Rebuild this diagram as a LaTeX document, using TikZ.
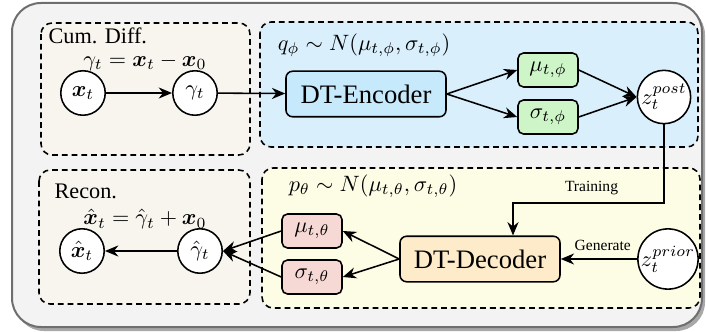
\documentclass[tikz,border=0pt]{standalone}
\usepackage{amsmath,bm}
\usepackage[no-math]{fontspec}
\setmainfont{Liberation Serif}
\usepackage{xcolor}
\usepackage{tikz}
\usetikzlibrary{arrows.meta,positioning,shapes.geometric}

\definecolor{framefill}{HTML}{F3F3F3}
\definecolor{frameline}{HTML}{6E6E6E}
\definecolor{beige}{HTML}{F7F5EE}
\definecolor{skyarea}{HTML}{D9EFFC}
\definecolor{creamarea}{HTML}{FDFDE6}
\definecolor{encfill}{HTML}{C6EAFB}
\definecolor{decfill}{HTML}{FDEBC9}
\definecolor{greenfill}{HTML}{CDF5C7}
\definecolor{pinkfill}{HTML}{F6D8D4}

\begin{document}
\begin{tikzpicture}[
  x=0.45pt, y=-0.45pt,
  every node/.style={font=\normalsize},
  area/.style={draw, line width=0.7pt, dash pattern=on 2.6pt off 1.8pt, rounded corners=5pt},
  var/.style={draw, circle, line width=0.7pt, fill=white, minimum size=20pt, inner sep=0pt},
  latent/.style={draw, circle, line width=0.7pt, fill=white, minimum size=24pt, inner sep=0pt},
  net/.style={draw, rounded corners=3pt, line width=0.7pt, minimum width=72pt, minimum height=20.5pt, font=\large},
  param/.style={draw, rounded corners=2.5pt, line width=0.7pt, minimum width=27pt, minimum height=15.3pt},
  edge/.style={-{Stealth[length=6pt,width=5pt]}, line width=0.7pt}
]
\useasboundingbox (0,0) rectangle (706,332);
\fill[frameline!60, rounded corners=13pt] (15,6) rectangle (705,331);
\draw[frameline, line width=0.9pt, fill=framefill, rounded corners=13pt] (12,3) rectangle (702,327);

\draw[area, fill=beige] (41,23) rectangle (250,155);
\draw[area, fill=skyarea] (260,22) rectangle (698,147);
\draw[area, fill=beige] (39,170) rectangle (250,304);
\draw[area, fill=creamarea] (262,168) rectangle (700,308);

\node[anchor=west, inner sep=1pt] (cum) at (46,36) {Cum. Diff.};
\node[inner sep=1pt] (diffeq) at (145,62) {$\gamma_t = \bm{x}_t - \bm{x}_0$};
\node[var] (xt) at (83,93) {$\bm{x}_t$};
\node[var] (gt) at (195,93) {$\gamma_t$};

\node (qphi) at (364,45) {$q_\phi \sim N(\mu_{t,\phi},\sigma_{t,\phi})$};
\node[net, fill=encfill] (enc) at (366,94) {DT-Encoder};
\node[param, fill=greenfill] (muphi) at (548,70) {$\mu_{t,\phi}$};
\node[param, fill=greenfill] (sigphi) at (548,117) {$\sigma_{t,\phi}$};
\node[latent] (zpost) at (664,97) {$z_t^{post}$};

\node[anchor=west, inner sep=1pt] (recon) at (52,191) {Recon.};
\node[inner sep=1pt] (reconeq) at (145,219) {$\hat{\bm{x}}_t = \hat{\gamma}_t + \bm{x}_0$};
\node[var] (xhat) at (82,251) {$\hat{\bm{x}}_t$};
\node[var] (ghat) at (200,251) {$\hat{\gamma}_t$};

\node (ptheta) at (373,186) {$p_\theta \sim N(\mu_{t,\theta},\sigma_{t,\theta})$};
\node[net, fill=decfill] (dec) at (480,259) {DT-Decoder};
\node[param, fill=pinkfill] (mutheta) at (312,231) {$\mu_{t,\theta}$};
\node[param, fill=pinkfill] (sigtheta) at (312,277) {$\sigma_{t,\theta}$};
\node[latent] (zprior) at (668,259) {$z_t^{prior}$};

\coordinate (trbend) at (513,203);

\draw[edge] (xt) -- (gt);
\draw[edge] (gt) -- (enc);
\draw[edge] (enc.east) -- (muphi.west);
\draw[edge] (enc.east) -- (sigphi.west);
\draw[edge] (muphi.east) -- (zpost.west);
\draw[edge] (sigphi.east) -- (zpost.west);
\draw[edge] (zpost.south) |- node[above, pos=0.74, font=\scriptsize]{Training} (trbend) -- (trbend |- dec.north);
\draw[edge] (zprior) -- node[above, pos=0.45, font=\scriptsize]{Generate} (dec);
\draw[edge] (dec.west) -- (mutheta.east);
\draw[edge] (dec.west) -- (sigtheta.east);
\draw[edge] (mutheta.west) -- (ghat.east);
\draw[edge] (sigtheta.west) -- (ghat.east);
\draw[edge] (ghat) -- (xhat);
\end{tikzpicture}
\end{document}
